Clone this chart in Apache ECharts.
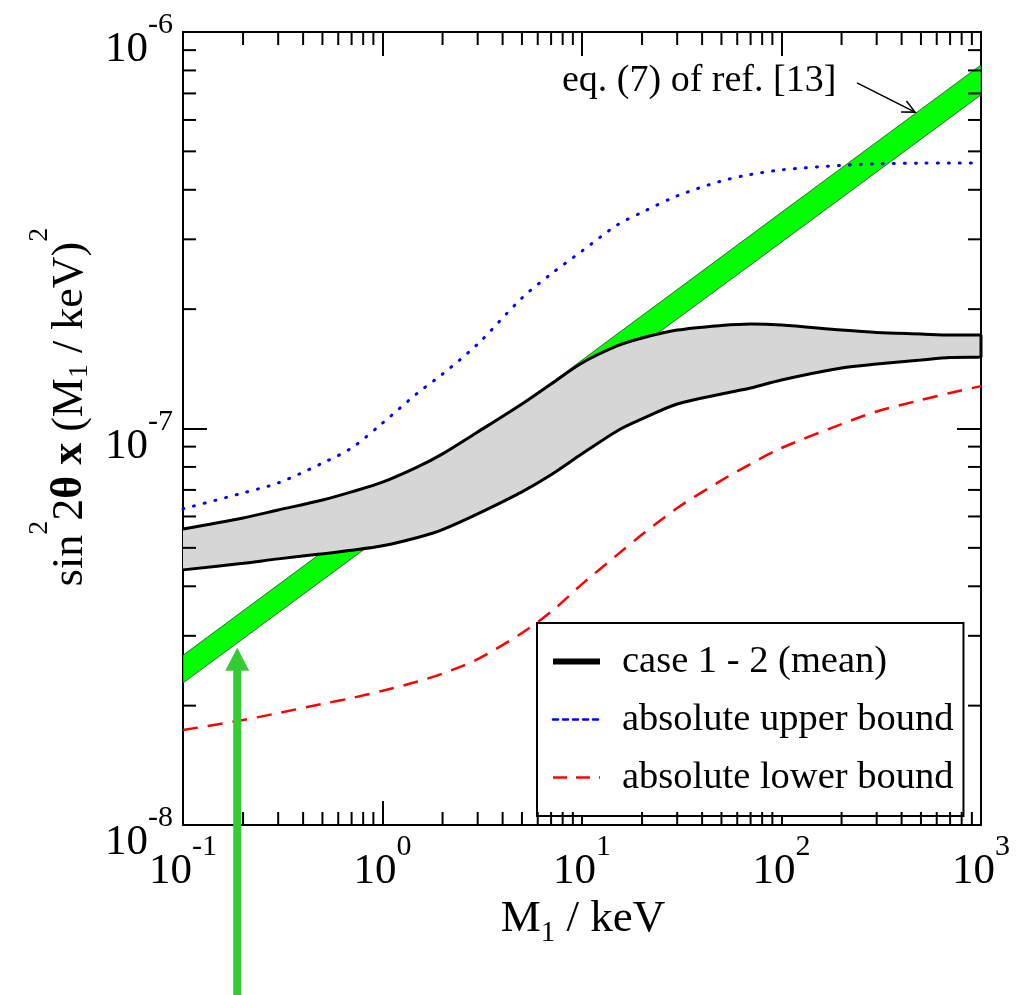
<!DOCTYPE html>
<html>
<head>
<meta charset="UTF-8">
<title>sin^2 2theta x (M1/keV)^2</title>
<script src="https://cdn.jsdelivr.net/npm/echarts@6/dist/echarts.min.js"></script>
<style>
html, body { margin: 0; padding: 0; background: #fff; }
#container { width: 1022px; height: 995px; }
</style>
</head>
<body>
<div id="container"></div>
<script type="text/javascript">
var SERIF = '"Liberation Serif", "DejaVu Serif", serif';

// M1 / keV sample points
var mass = [0.1, 0.2, 0.3, 0.5, 0.7, 1, 1.5, 2, 3, 5, 7, 10, 15, 20, 30, 50, 70, 100, 200, 300, 500, 700, 1000];
// case 1 - 2 (mean): upper and lower edge of the grey band
var caseUpper = [5.58e-8, 5.95e-8, 6.23e-8, 6.60e-8, 6.92e-8, 7.32e-8, 8.00e-8, 8.63e-8, 9.80e-8, 1.153e-7, 1.295e-7, 1.463e-7, 1.615e-7, 1.691e-7, 1.771e-7, 1.819e-7, 1.835e-7, 1.824e-7, 1.771e-7, 1.746e-7, 1.731e-7, 1.721e-7, 1.721e-7];
var caseLower = [4.40e-8, 4.57e-8, 4.69e-8, 4.83e-8, 4.93e-8, 5.06e-8, 5.31e-8, 5.56e-8, 6.09e-8, 6.92e-8, 7.64e-8, 8.63e-8, 9.86e-8, 1.057e-7, 1.153e-7, 1.222e-7, 1.265e-7, 1.326e-7, 1.421e-7, 1.454e-7, 1.488e-7, 1.510e-7, 1.514e-7];
// absolute bounds
var upperBound = [6.27e-8, 6.88e-8, 7.29e-8, 8.18e-8, 8.93e-8, 1.032e-7, 1.229e-7, 1.372e-7, 1.633e-7, 2.134e-7, 2.453e-7, 2.803e-7, 3.26e-7, 3.51e-7, 3.86e-7, 4.21e-7, 4.37e-7, 4.49e-7, 4.61e-7, 4.65e-7, 4.67e-7, 4.67e-7, 4.67e-7];
var lowerBound = [1.736e-8, 1.840e-8, 1.916e-8, 2.02e-8, 2.09e-8, 2.18e-8, 2.30e-8, 2.41e-8, 2.62e-8, 3.05e-8, 3.45e-8, 4.05e-8, 4.80e-8, 5.40e-8, 6.30e-8, 7.40e-8, 8.14e-8, 8.93e-8, 1.026e-7, 1.104e-7, 1.180e-7, 1.229e-7, 1.279e-7];
// eq. (7) of ref. [13] (green band)
var eqMass = [0.1, 1, 10, 100, 1000];
var eqUpper = [2.68e-8, 6.32e-8, 1.488e-7, 3.51e-7, 8.26e-7];
var eqLower = [2.28e-8, 5.36e-8, 1.258e-7, 2.95e-7, 6.94e-7];

// minor tick values
var xMinor = [0.2, 0.3, 0.4, 0.5, 0.6, 0.7, 0.8, 0.9, 2, 3, 4, 5, 6, 7, 8, 9, 20, 30, 40, 50, 60, 70, 80, 90, 200, 300, 400, 500, 600, 700, 800, 900];
var yMinor = [2e-8, 3e-8, 4e-8, 5e-8, 6e-8, 7e-8, 8e-8, 9e-8, 2e-7, 3e-7, 4e-7, 5e-7, 6e-7, 7e-7, 8e-7, 9e-7];

var names = ['case 1 - 2 (mean)', 'absolute upper bound', 'absolute lower bound'];
var eqLabel = 'eq. (7) of ref. [13]';
// annotation arrows (data coordinates)
var eqArrow = [[239, 7.44e-7], [467, 6.28e-7]];
var greenArrowTip = [0.187, 2.8e-8];

var dom = document.getElementById('container');
var myChart = echarts.init(dom);

function pairs(xs, ys) {
	return xs.map(function (x, i) { return [x, ys[i]]; });
}

// closed outline: upper edge left->right, then lower edge right->left
var outline = pairs(mass, caseUpper).concat(pairs(mass, caseLower).reverse());

function bandSeries(xs, top, bottom, fill, stroke, lw, z) {
	return {
		type: 'custom', z: z, clip: true, silent: true,
		data: [[xs[0], top[0]]],
		renderItem: function (params, api) {
			var pts = xs.map(function (x, i) { return api.coord([x, top[i]]); });
			var low = xs.map(function (x, i) { return api.coord([x, bottom[i]]); }).reverse();
			return {
				type: 'polygon',
				shape: { points: pts.concat(low) },
				style: { fill: fill, stroke: stroke, lineWidth: lw }
			};
		}
	};
}

function tickSeries(vals, isX) {
	return {
		type: 'custom', z: 6, clip: false, silent: true,
		data: vals.map(function (v) { return isX ? [v, 1e-7] : [1, v]; }),
		renderItem: function (params, api) {
			var cs = params.coordSys;
			var p = api.coord([api.value(0), api.value(1)]);
			var L = 13;
			var st = { stroke: '#000', lineWidth: 2 };
			if (isX) {
				return { type: 'group', children: [
					{ type: 'line', shape: { x1: p[0], y1: cs.y + cs.height, x2: p[0], y2: cs.y + cs.height - L }, style: st },
					{ type: 'line', shape: { x1: p[0], y1: cs.y, x2: p[0], y2: cs.y + L }, style: st }
				] };
			}
			return { type: 'group', children: [
				{ type: 'line', shape: { x1: cs.x, y1: p[1], x2: cs.x + L, y2: p[1] }, style: st },
				{ type: 'line', shape: { x1: cs.x + cs.width, y1: p[1], x2: cs.x + cs.width - L, y2: p[1] }, style: st }
			] };
		}
	};
}

var labelRich = {
	b: { fontSize: 43, lineHeight: 43, padding: [18, 0, 0, 0], verticalAlign: 'top', fontFamily: SERIF, color: '#000' },
	s: { fontSize: 30, lineHeight: 30, verticalAlign: 'top', fontFamily: SERIF, color: '#000' }
};
function powLabel(v) {
	var e = Math.round(Math.log(v) / Math.LN10);
	return '{b|10}{s|' + e + '}';
}

function logAxis(min, max, pos, showLabel, margin) {
	return {
		type: 'log', logBase: 10, min: min, max: max, position: pos,
		axisLine: { show: true, lineStyle: { color: '#000', width: 2 } },
		axisTick: { show: true, inside: true, length: 24, lineStyle: { color: '#000', width: 2 } },
		minorTick: { show: false },
		splitLine: { show: false },
		axisLabel: {
			show: showLabel, formatter: powLabel, rich: labelRich, margin: margin,
			showMinLabel: true, showMaxLabel: true, hideOverlap: false
		}
	};
}

var option = {
	animation: false,
	backgroundColor: '#fff',
	textStyle: { fontFamily: SERIF },
	grid: { left: 183, top: 32, right: 41, bottom: 170, containLabel: false, outerBoundsMode: 'none' },
	xAxis: [logAxis(0.1, 1000, 'bottom', true, 7), logAxis(0.1, 1000, 'top', false, 7)],
	yAxis: [logAxis(1e-8, 1e-6, 'left', true, 10), logAxis(1e-8, 1e-6, 'right', false, 10)],
	legend: {
		orient: 'vertical', left: 537, top: 623,
		data: [
			{ name: names[0], lineStyle: { width: 6 } },
			{ name: names[1], lineStyle: { width: 2.5, type: [5, 5] } },
			{ name: names[2], lineStyle: { width: 2.5, type: [14, 9] } }
		],
		itemWidth: 47, itemHeight: 36, itemGap: 19,
		itemStyle: { opacity: 0, borderWidth: 0 },
		padding: [19, 10, 19, 13],
		backgroundColor: '#fff', borderColor: '#000', borderWidth: 2, borderRadius: 0,
		selectedMode: false,
		formatter: function (name) { return '{t|' + name + '}'; },
		textStyle: {
			fontFamily: SERIF, fontSize: 38.5, color: '#000',
			rich: { t: { fontFamily: SERIF, fontSize: 38.5, color: '#000', lineHeight: 36, padding: [0, 0, 0, 17] } }
		}
	},
	series: [
		bandSeries(eqMass, eqUpper, eqLower, '#00ff00', 'rgba(40,40,40,0.7)', 1, 1),
		bandSeries(mass, caseUpper, caseLower, '#d6d6d6', 'none', 0, 2),
		{
			name: names[0], type: 'line', z: 3, symbol: 'none', smooth: 0.3, data: outline,
			itemStyle: { color: '#000' },
			lineStyle: { color: '#000', width: 3 }
		},
		{
			name: names[1], type: 'line', z: 3, symbol: 'none', smooth: 0.3, data: pairs(mass, upperBound),
			itemStyle: { color: '#0000ff' },
			lineStyle: { color: '#0000ff', width: 3, type: [1, 10], cap: 'round' }
		},
		{
			name: names[2], type: 'line', z: 3, symbol: 'none', smooth: 0.3, data: pairs(mass, lowerBound),
			itemStyle: { color: '#ff0000' },
			lineStyle: { color: '#ff0000', width: 2.5, type: [15, 10] }
		},
		tickSeries(xMinor, true),
		tickSeries(yMinor, false)
	]
};

if (option && typeof option === 'object') {
	myChart.setOption(option, true);
}

// titles and annotations
var a0 = myChart.convertToPixel({ xAxisIndex: 0, yAxisIndex: 0 }, eqArrow[0]);
var a1 = myChart.convertToPixel({ xAxisIndex: 0, yAxisIndex: 0 }, eqArrow[1]);
var ang = Math.atan2(a1[1] - a0[1], a1[0] - a0[0]);
var wing = 14, spread = 0.45;
var tip = myChart.convertToPixel({ xAxisIndex: 0, yAxisIndex: 0 }, greenArrowTip);
var bottomY = myChart.getHeight();

myChart.setOption({
	graphic: [
		{
			type: 'text', x: 48, y: 407, rotation: Math.PI / 2, z: 10,
			style: {
				text: '{n|sin}{sp|2}{n|2}{b|θ x}{n| (M}{sb|1}{n| / keV)}{sp|2}',
				align: 'center', verticalAlign: 'middle',
				rich: {
					n: { fontSize: 44, lineHeight: 44, padding: [22, 0, 0, 0], verticalAlign: 'top', fontFamily: SERIF, fill: '#000' },
					b: { fontSize: 44, lineHeight: 44, padding: [22, 0, 0, 0], verticalAlign: 'top', fontFamily: SERIF, fontWeight: 'bold', fill: '#000' },
					sp: { fontSize: 28, lineHeight: 28, verticalAlign: 'top', fontFamily: SERIF, fill: '#000' },
					sb: { fontSize: 28, lineHeight: 28, padding: [40, 0, 0, 0], verticalAlign: 'top', fontFamily: SERIF, fill: '#000' }
				}
			}
		},
		{
			type: 'text', x: 583, y: 919, z: 10,
			style: {
				text: '{n|M}{sb|1}{n| / keV}',
				align: 'center', verticalAlign: 'middle',
				rich: {
					n: { fontSize: 45, lineHeight: 45, verticalAlign: 'top', fontFamily: SERIF, fill: '#000' },
					sb: { fontSize: 29, lineHeight: 29, padding: [22, 0, 0, 0], verticalAlign: 'top', fontFamily: SERIF, fill: '#000' }
				}
			}
		},
		{
			type: 'text', x: 562, y: 81, z: 10,
			style: { text: eqLabel, font: '38px ' + SERIF, fill: '#000', align: 'left', verticalAlign: 'middle' }
		},
		{
			type: 'polyline', z: 10, silent: true,
			shape: { points: [a0, a1] },
			style: { stroke: '#000', lineWidth: 1.5, fill: null }
		},
		{
			type: 'polyline', z: 10, silent: true,
			shape: { points: [
				[a1[0] - wing * Math.cos(ang - spread), a1[1] - wing * Math.sin(ang - spread)],
				a1,
				[a1[0] - wing * Math.cos(ang + spread), a1[1] - wing * Math.sin(ang + spread)]
			] },
			style: { stroke: '#000', lineWidth: 1.5, fill: null }
		},
		{
			type: 'rect', z: 20, silent: true,
			shape: { x: tip[0] - 4, y: tip[1] + 22, width: 8, height: bottomY - tip[1] - 22 },
			style: { fill: '#33cc33' }
		},
		{
			type: 'polygon', z: 20, silent: true,
			shape: { points: [[tip[0], tip[1]], [tip[0] - 12, tip[1] + 23], [tip[0] + 12, tip[1] + 23]] },
			style: { fill: '#33cc33' }
		}
	]
});
</script>
</body>
</html>
